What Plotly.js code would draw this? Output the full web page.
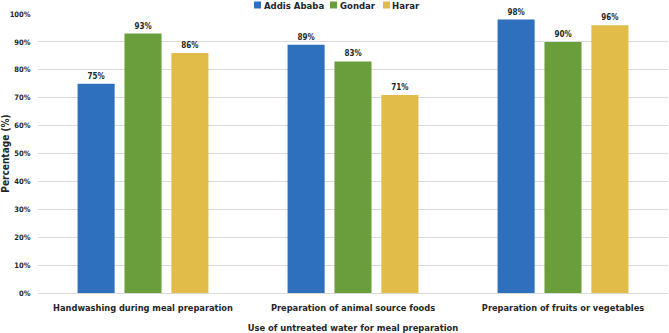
<!DOCTYPE html>
<html>
<head>
<meta charset="utf-8">
<script src="https://cdn.plot.ly/plotly-3.0.1.min.js"></script>
<style>
  html, body { margin: 0; padding: 0; background: #fff; }
  #chart { width: 669px; height: 333px; }
</style>
</head>
<body>
<div id="chart"></div>
<script>
// Share of households using untreated water, by activity and city
const categories = [
  'Handwashing during meal preparation',
  'Preparation of animal source foods',
  'Preparation of fruits or vegetables'
];
const addisAbaba = [75, 89, 98];
const gondar = [93, 83, 90];
const harar = [86, 71, 96];

const seriesNames = ['Addis Ababa', 'Gondar', 'Harar'];
const seriesColors = ['#2E70BE', '#6A9E3A', '#E1BC48'];
const seriesValues = [addisAbaba, gondar, harar];

const FONT = 'DejaVu Sans Condensed, DejaVu Sans, sans-serif';
const TEXT = '#262626';

const traces = seriesValues.map((vals, i) => ({
  type: 'bar',
  name: seriesNames[i],
  x: categories,
  y: vals,
  marker: { color: seriesColors[i] },
  text: vals.map(v => v + '%'),
  textposition: 'outside',
  cliponaxis: false,
  textfont: { family: FONT, size: 8, color: TEXT, weight: 'bold' },
  hoverinfo: 'skip'
}));

// Compact legend row above the plot: a colour swatch and a label per series
const legendSwatchX = [0.3429, 0.4635, 0.5476];
const legendTextX = [0.3556, 0.4762, 0.5587];
const legendShapes = seriesColors.map((c, i) => ({
  type: 'rect', xref: 'paper', yref: 'paper',
  x0: legendSwatchX[i], x1: legendSwatchX[i] + 0.0111,
  y0: 1.0197, y1: 1.0448,
  fillcolor: c, line: { width: 0 }
}));
const legendLabels = seriesNames.map((n, i) => ({
  xref: 'paper', yref: 'paper',
  x: legendTextX[i], y: 1.032,
  xanchor: 'left', yanchor: 'middle',
  text: n, showarrow: false,
  font: { family: FONT, size: 9.5, color: TEXT, weight: 'bold' }
}));

const layout = {
  width: 669,
  height: 333,
  margin: { l: 38, r: 1, t: 14, b: 40 },
  paper_bgcolor: '#ffffff',
  plot_bgcolor: '#ffffff',
  barmode: 'group',
  bargap: 0.33,
  bargroupgap: 0.21,
  font: { family: FONT, color: TEXT, weight: 'bold' },
  showlegend: false,
  shapes: legendShapes,
  annotations: legendLabels,
  xaxis: {
    type: 'category',
    showgrid: false,
    zeroline: false,
    showline: false,
    ticks: 'outside',
    ticklen: 6,
    tickcolor: 'rgba(0,0,0,0)',
    tickfont: { family: FONT, size: 9.2, color: TEXT, weight: 'bold' },
    title: {
      text: 'Use of untreated water for meal preparation',
      font: { family: FONT, size: 9.3, color: TEXT, weight: 'bold' },
      standoff: 12
    }
  },
  yaxis: {
    range: [0, 100],
    dtick: 10,
    ticksuffix: '%',
    showgrid: true,
    gridcolor: '#d9d9d9',
    gridwidth: 1,
    zeroline: true,
    zerolinecolor: '#d9d9d9',
    zerolinewidth: 1,
    showline: false,
    ticks: 'outside',
    ticklen: 5,
    tickcolor: 'rgba(0,0,0,0)',
    tickfont: { family: FONT, size: 7.5, color: TEXT, weight: 'bold' },
    title: {
      text: 'Percentage (%)',
      font: { family: FONT, size: 10, color: TEXT, weight: 'bold' },
      standoff: 4
    }
  }
};

Plotly.newPlot('chart', traces, layout, { displayModeBar: false, staticPlot: true });
</script>
</body>
</html>
